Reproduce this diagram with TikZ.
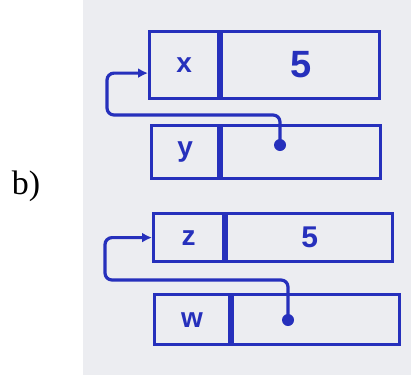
\documentclass[tikz,border=0pt]{standalone}
\usepackage{fontspec}
\setmainfont{Liberation Serif}
\newfontfamily\handfont{Liberation Sans}
\usetikzlibrary{arrows.meta}
\definecolor{inkblue}{RGB}{38,48,188}
\definecolor{paper}{RGB}{236,237,241}

\begin{document}
\begin{tikzpicture}[
    x=1pt, y=-1pt,
    >=Latex,
    ink/.style={draw=inkblue, line width=3.2pt},
    cell/.style={
      ink,
      rectangle,
      anchor=north west,
      inner sep=0pt,
      text=inkblue,
      font=\handfont\bfseries\fontsize{28}{28}\selectfont
    },
    ptr/.style={inkblue, line width=3.2pt, rounded corners=7pt,
      -{Latex[length=10pt,width=10pt]}},
    dot/.style={circle, fill=inkblue, inner sep=0pt, minimum size=12pt}
  ]

  \path[use as bounding box] (0,0) rectangle (411,375);
  \fill[paper] (83,0) rectangle (411,375);

  % =====================================================
  % LABEL
  % =====================================================
  \node[font=\fontsize{34}{34}\selectfont] (lbl) at (26,186) {b)};

  % =====================================================
  % RECORDS x AND y
  % =====================================================
  \node[cell, minimum width=69pt, minimum height=67pt] (xname) at (148,30) {x};
  \node[cell, minimum width=158pt, minimum height=67pt,
    font=\handfont\bfseries\fontsize{38}{38}\selectfont] (xval) at (xname.north east) {5};

  \node[cell, minimum width=67pt, minimum height=53pt] (yname) at (150,124) {y};
  \node[cell, minimum width=159pt, minimum height=53pt] (yval) at (yname.north east) {};

  % =====================================================
  % RECORDS z AND w
  % =====================================================
  \node[cell, minimum width=70pt, minimum height=48pt] (zname) at (152,212) {z};
  \node[cell, minimum width=166pt, minimum height=48pt,
    font=\handfont\bfseries\fontsize{30}{30}\selectfont] (zval) at (zname.north east) {5};

  \node[cell, minimum width=75pt, minimum height=50pt] (wname) at (153,293) {w};
  \node[cell, minimum width=167pt, minimum height=50pt] (wval) at (wname.north east) {};

  % =====================================================
  % POINTERS
  % =====================================================
  \node[dot] (ydot) at (280,145) {};
  \coordinate (ybend) at (107,115);
  \draw[ptr] (ydot.center) |- (ybend) |- ([yshift=-8pt]xname.west);

  \node[dot] (wdot) at (288,320) {};
  \coordinate (wbend) at (105,280);
  \draw[ptr] (wdot.center) |- (wbend) |- (zname.west);

\end{tikzpicture}
\end{document}
